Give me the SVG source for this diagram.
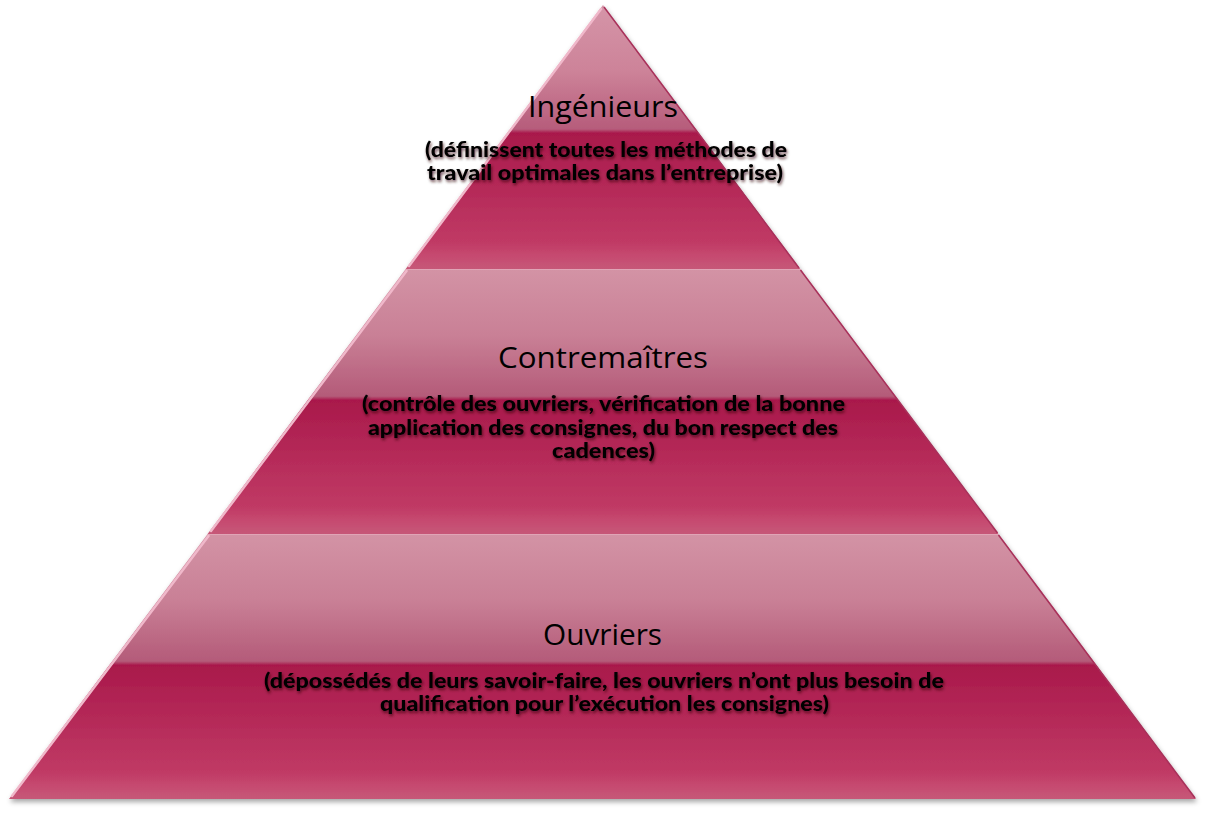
<svg xmlns="http://www.w3.org/2000/svg" width="1205" height="813" viewBox="0 0 1205 813">
<defs>
<linearGradient id="g1" gradientUnits="userSpaceOnUse" x1="0" y1="5" x2="0" y2="269">
<stop offset="0" stop-color="#d595a8"/><stop offset="0.25" stop-color="#cd8399"/><stop offset="0.47" stop-color="#b65c7b"/><stop offset="0.485" stop-color="#a9194b"/><stop offset="0.9" stop-color="#c03a65"/><stop offset="0.95" stop-color="#c64a70"/><stop offset="1" stop-color="#c65878"/>
</linearGradient>
<linearGradient id="g2" gradientUnits="userSpaceOnUse" x1="0" y1="269" x2="0" y2="534">
<stop offset="0" stop-color="#d393a5"/><stop offset="0.25" stop-color="#c98096"/><stop offset="0.48" stop-color="#b45b79"/><stop offset="0.495" stop-color="#a9194b"/><stop offset="0.9" stop-color="#c03a65"/><stop offset="0.95" stop-color="#c64a70"/><stop offset="1" stop-color="#c65878"/>
</linearGradient>
<linearGradient id="g3" gradientUnits="userSpaceOnUse" x1="0" y1="534" x2="0" y2="799">
<stop offset="0" stop-color="#d393a5"/><stop offset="0.25" stop-color="#c98096"/><stop offset="0.48" stop-color="#b45b79"/><stop offset="0.495" stop-color="#a9194b"/><stop offset="0.9" stop-color="#c03a65"/><stop offset="0.95" stop-color="#c64a70"/><stop offset="1" stop-color="#c65878"/>
</linearGradient>
<filter id="shadow" x="-5%" y="-5%" width="110%" height="115%">
<feGaussianBlur in="SourceAlpha" stdDeviation="2.5"/>
<feOffset dx="1" dy="3" result="b"/>
<feFlood flood-color="#000" flood-opacity="0.35"/>
<feComposite in2="b" operator="in"/>
<feMerge><feMergeNode/><feMergeNode in="SourceGraphic"/></feMerge>
</filter>
<filter id="tshadow" x="-5%" y="-30%" width="110%" height="160%">
<feGaussianBlur in="SourceAlpha" stdDeviation="1.8"/>
<feOffset dx="1" dy="1.5" result="b"/>
<feFlood flood-color="#300010" flood-opacity="0.7"/>
<feComposite in2="b" operator="in"/>
<feMerge><feMergeNode/><feMergeNode in="SourceGraphic"/></feMerge>
</filter>
</defs>
<style>
.title{font-family:"Open Sans","Liberation Sans",sans-serif;font-size:30px;fill:#000;text-anchor:middle}
.desc{font-family:"Lato","Liberation Sans",sans-serif;font-weight:900;font-size:21px;fill:#000;text-anchor:middle}
.hl{fill:none;stroke:#f0b8ca;stroke-width:2.5;stroke-linecap:round}
.dk{fill:none;stroke:#a8305a;stroke-width:1.5}
</style>
<rect width="1205" height="813" fill="#fff"/>
<g filter="url(#shadow)">
<g id="tier-ingenieurs">
<polygon points="603,5 800.3,269 405.7,269" fill="url(#g1)"/>
<line class="hl" x1="601" y1="9" x2="409" y2="266"/>
<line class="dk" x1="604" y1="7" x2="799" y2="268"/>
</g>
<g id="tier-contremaitres">
<polygon points="405.7,269 800.3,269 998.4,534 207.6,534" fill="url(#g2)"/>
<line class="hl" x1="406.5" y1="271" x2="211" y2="531"/>
<line class="dk" x1="800.5" y1="270" x2="997.5" y2="533"/>
<line x1="406" y1="269.5" x2="800" y2="269.5" stroke="#e0a5b6" stroke-width="1"/>
</g>
<g id="tier-ouvriers">
<polygon points="207.6,534 998.4,534 1196,799 9,799" fill="url(#g3)"/>
<line class="hl" x1="208.5" y1="536" x2="12" y2="796"/>
<line class="dk" x1="998.5" y1="535" x2="1195" y2="798"/>
<line x1="208" y1="534.5" x2="998" y2="534.5" stroke="#e0a5b6" stroke-width="1"/>
</g>
</g>
<g id="labels">
<g id="label-ingenieurs">
<text class="title" x="603" y="117" textLength="150" lengthAdjust="spacingAndGlyphs">Ingénieurs</text>
<g filter="url(#tshadow)">
<text class="desc" x="606" y="157" textLength="362" lengthAdjust="spacingAndGlyphs">(définissent toutes les méthodes de</text>
<text class="desc" x="605" y="180" textLength="356" lengthAdjust="spacingAndGlyphs">travail optimales dans l’entreprise)</text>
</g>
</g>
<g id="label-contremaitres">
<text class="title" x="603" y="368" textLength="210" lengthAdjust="spacingAndGlyphs">Contremaîtres</text>
<g filter="url(#tshadow)">
<text class="desc" x="603.5" y="411" textLength="483" lengthAdjust="spacingAndGlyphs">(contrôle des ouvriers, vérification de la bonne</text>
<text class="desc" x="603" y="435" textLength="470" lengthAdjust="spacingAndGlyphs">application des consignes, du bon respect des</text>
<text class="desc" x="603.5" y="458" textLength="103" lengthAdjust="spacingAndGlyphs">cadences)</text>
</g>
</g>
<g id="label-ouvriers">
<text class="title" x="602.5" y="645" textLength="119" lengthAdjust="spacingAndGlyphs">Ouvriers</text>
<g filter="url(#tshadow)">
<text class="desc" x="604" y="688" textLength="680" lengthAdjust="spacingAndGlyphs">(dépossédés de leurs savoir-faire, les ouvriers n’ont plus besoin de</text>
<text class="desc" x="604.5" y="711" textLength="449" lengthAdjust="spacingAndGlyphs">qualification pour l’exécution les consignes)</text>
</g>
</g>
</g>
<g id="connectors"/>
</svg>
